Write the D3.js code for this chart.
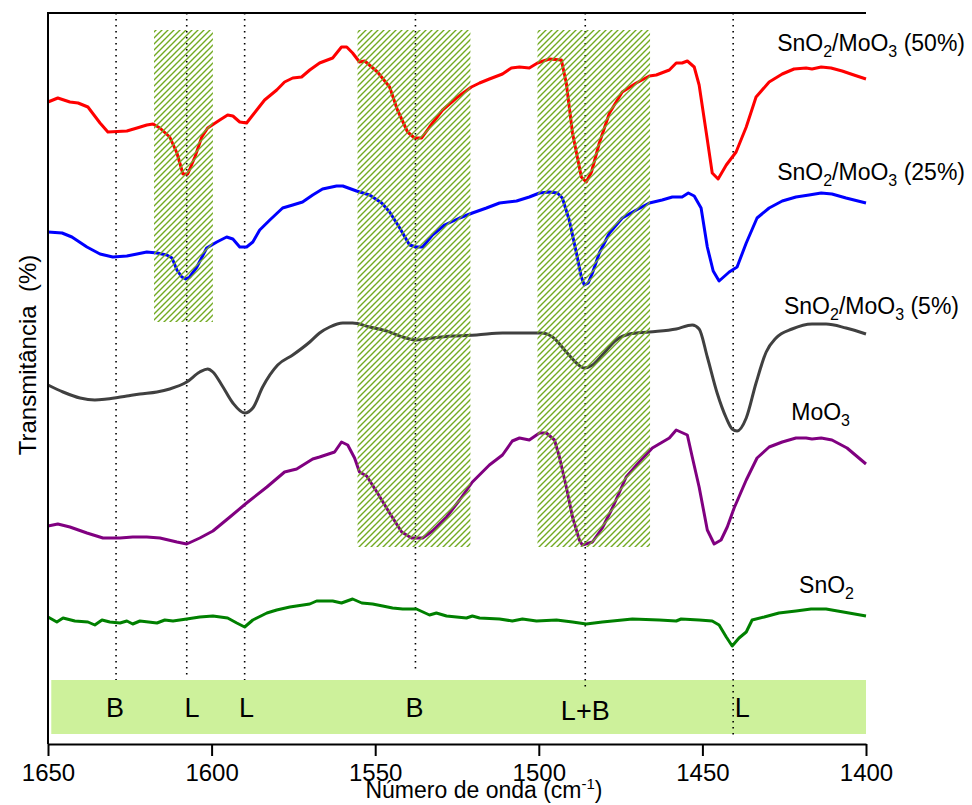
<!DOCTYPE html>
<html><head><meta charset="utf-8">
<script src="https://cdn.jsdelivr.net/npm/d3@7"></script>
<style>body{margin:0;background:#fff}svg{display:block;font-family:"Liberation Sans",Arial,Helvetica,sans-serif}</style>
</head><body><svg id="c" width="972" height="805"></svg>
<script>
// ---- data (wavenumber cm^-1, transmittance in arbitrary offset units) ----
const wavenumberTicks = [1650, 1600, 1550, 1500, 1450, 1400];

const sno2Moo3_50 = [[1650,642],[1647.0,646],[1643.3,642],[1640.8,641],[1637.8,637],[1634.1,621],[1631.7,612],[1625.9,613],[1622.8,616],[1619.8,619],[1617.9,620],[1615.8,616],[1612.8,607],[1610.6,591],[1609.1,574],[1608.8,570],[1607.3,570],[1605.1,587],[1603.0,607],[1601.2,616],[1597.5,624],[1595.1,629],[1593.5,628],[1591.4,622],[1589.3,621],[1587.4,629],[1583.8,644],[1580.1,654],[1577.7,662],[1575.2,666],[1572.5,667],[1570.0,674],[1567.0,681],[1563.0,686],[1560.3,697],[1558.7,697],[1556.9,691],[1554.8,682],[1553.2,683],[1549.3,672],[1545.6,657],[1543.2,634],[1540.1,612],[1538.0,606],[1535.8,606],[1533.4,617],[1529.4,634],[1525.2,646],[1520.6,657],[1518.1,661],[1515.1,665],[1511.1,670],[1508.4,676],[1505.9,677],[1502.9,676],[1500.4,681],[1496.8,685],[1493.1,684],[1491.6,661],[1489.7,611],[1487.0,567],[1485.5,562],[1483.9,572],[1481.5,601],[1478.4,631],[1474.5,652],[1470.2,661],[1466.2,668],[1464.1,669],[1460.1,674],[1458.0,681],[1456.2,681],[1454.6,683],[1452.5,677],[1451.0,659],[1448.8,611],[1447.0,571],[1445.2,565],[1442.7,579],[1439.7,592],[1436.6,617],[1433.6,647],[1429.6,662],[1425.6,670],[1422.0,675],[1418.3,676],[1416.5,675],[1413.7,677],[1410.7,676],[1407.3,673],[1403.7,669],[1400,665]];

const sno2Moo3_25 = [[1650,512],[1645.7,511],[1642.7,507],[1638.1,497],[1634.1,490],[1630.2,487],[1625.9,488],[1622.8,490],[1619.8,492],[1616.7,491],[1613.7,489],[1612.1,486],[1610.6,474],[1609.1,467],[1607.9,465],[1606.7,467],[1604.5,477],[1601.5,496],[1598.4,502],[1595.4,507],[1593.5,505],[1591.4,497],[1589.3,497],[1587.4,502],[1585.3,514],[1582.2,524],[1578.3,536],[1575.2,539],[1572.2,542],[1569.1,549],[1566.1,555],[1561.8,558],[1559.9,558],[1555.7,553],[1551.7,549],[1548.0,541],[1545.6,532],[1542.5,516],[1539.5,499],[1537.4,497],[1535.5,497],[1532.5,509],[1528.8,519],[1524.2,526],[1520.3,531],[1516.0,536],[1512.0,541],[1506.8,543],[1502.9,547],[1499.8,551],[1496.8,552],[1494.3,551],[1492.8,546],[1490.7,524],[1488.5,491],[1487.0,467],[1486.1,459],[1484.9,461],[1483.6,471],[1481.5,491],[1478.4,511],[1474.5,526],[1470.2,534],[1466.2,541],[1462.3,544],[1459.2,547],[1456.2,547],[1454.3,551],[1452.5,548],[1450.4,536],[1448.5,497],[1446.7,473],[1444.9,463],[1441.8,472],[1439.4,477],[1436.6,501],[1433.3,526],[1429.6,536],[1425.6,543],[1421.4,547],[1417.4,549],[1413.7,551],[1410.4,550],[1406.1,546],[1400,541]];

const sno2Moo3_5 = [[1650,359],[1645.4,352],[1640.2,346],[1635.7,344],[1632.0,345],[1625.9,348],[1621.9,350],[1616.7,352],[1612.8,355],[1607.6,362],[1603.6,372],[1601.2,375],[1599.6,372],[1596.9,359],[1593.5,341],[1589.9,331],[1587.4,336],[1584.4,357],[1579.8,379],[1575.2,389],[1570.0,402],[1567.0,411],[1563.9,417],[1559.9,421],[1556.9,421],[1551.7,417],[1546.5,413],[1541.6,407],[1537.4,404],[1532.5,406],[1526.4,408],[1519.0,409],[1511.1,411],[1503.8,411],[1499.2,411],[1495.8,407],[1491.6,392],[1488.5,381],[1486.1,376],[1483.6,379],[1480.6,389],[1476.3,404],[1472.3,410],[1466.2,412],[1458.0,415],[1453.1,419],[1451.0,415],[1448.5,387],[1445.5,351],[1442.7,326],[1440.9,315],[1439.4,313],[1436.6,326],[1433.6,361],[1430.5,392],[1427.5,406],[1422.6,415],[1416.5,420],[1412.2,420],[1406.1,416],[1400,410]];

const moo3 = [[1650,218],[1647.0,220],[1643.3,217],[1638.1,211],[1633.2,206],[1628.0,206],[1624.1,207],[1619.8,207],[1615.8,206],[1610.6,202],[1607.6,200],[1603.6,206],[1599.6,213],[1594.4,227],[1589.3,241],[1583.1,257],[1577.7,272],[1574.0,275],[1569.1,285],[1567.0,287],[1562.4,292],[1560.3,302],[1558.4,299],[1556.3,286],[1554.8,272],[1552.6,268],[1549.3,251],[1545.6,231],[1541.9,212],[1538.9,206],[1535.5,206],[1532.5,213],[1528.2,227],[1524.2,244],[1520.3,262],[1515.1,279],[1511.1,289],[1508.1,303],[1505.9,306],[1502.9,304],[1499.8,311],[1497.7,311],[1495.2,304],[1493.7,287],[1491.6,257],[1489.7,227],[1487.6,204],[1486.7,199],[1483.6,202],[1480.6,216],[1477.5,236],[1473.3,267],[1469.3,282],[1465.3,296],[1460.1,306],[1458.0,314],[1454.6,309],[1453.1,287],[1451.0,257],[1448.5,214],[1446.4,200],[1444.3,204],[1442.4,217],[1440.3,236],[1436.6,264],[1433.3,286],[1429.6,297],[1425.6,302],[1421.4,306],[1418.3,306],[1416.5,305],[1413.7,306],[1410.4,304],[1405.8,296],[1400,280]];

const sno2 = [[1650,127],[1647.3,122],[1645.4,126],[1641.8,123],[1637.8,122],[1635.7,119],[1633.5,124],[1631.1,122],[1628.0,121],[1625.9,123],[1624.1,120],[1621.9,123],[1616.7,121],[1614.3,124],[1611.8,123],[1607.6,125],[1603.6,127],[1599.6,128],[1595.1,126],[1592.3,121],[1589.9,117],[1587.4,124],[1583.1,131],[1580.1,134],[1576.1,137],[1570.0,140],[1567.9,143],[1563.0,143],[1560.3,141],[1556.9,145],[1554.1,141],[1550.8,140],[1547.7,138],[1544.7,136],[1541.6,135],[1537.4,135],[1533.4,129],[1531.3,131],[1528.2,128],[1522.1,126],[1520.3,128],[1518.1,126],[1512.0,125],[1508.1,123],[1505.0,125],[1500.7,123],[1494.6,124],[1489.7,122],[1485.5,120],[1480.6,122],[1477.5,123],[1471.4,125],[1463.2,124],[1458.0,123],[1456.5,125],[1451.0,124],[1447.0,123],[1444.9,119],[1442.7,107],[1440.9,98],[1438.8,106],[1436.6,112],[1434.8,124],[1431.1,127],[1426.6,131],[1421.4,133],[1416.8,135],[1412.2,135],[1405.2,131],[1400,128]];

const seriesLabels = ["SnO2/MoO3 (50%)", "SnO2/MoO3 (25%)", "SnO2/MoO3 (5%)", "MoO3", "SnO2"];
const seriesColors = ["#ff0000", "#0000ff", "#404040", "#800080", "#008000"];

// band assignments (Lewis / Brønsted)
const assignmentLabels = ["B", "L", "L", "B", "L+B", "L"];
const assignmentWavenumbers = [1629.2, 1607.6, 1589.9, 1537.7, 1485.8, 1440.6];
const assignmentLabelWavenumbers = [1629.5, 1606.0, 1589.3, 1538.0, 1485.8, 1437.8];
const assignmentLineEnds = [64, 69, 64, 71, 56, 7];
// hatched regions: [from, to] wavenumber and [top, bottom] transmittance
const hatchFrom = [1617.6, 1555.4, 1500.4];
const hatchTo = [1599.6, 1520.9, 1466.0];
const hatchTop = [714, 714, 714];
const hatchBottom = [422, 197, 197];

// ---- chart ----
const svg = d3.select("#c");
const L = 48, R = 866, T = 13, B = 744;
const x = d3.scaleLinear().domain([1650, 1400]).range([L, R]);
const y = d3.scaleLinear().domain([0, 731]).range([B, T]);

const defs = svg.append("defs");
const pat = defs.append("pattern").attr("id", "hatch").attr("patternUnits", "userSpaceOnUse")
  .attr("width", 6).attr("height", 6);
pat.append("path").attr("d", "M0,6 L6,0 M-1.5,1.5 L1.5,-1.5 M4.5,7.5 L7.5,4.5")
  .attr("stroke", "#72aa22").attr("stroke-width", 1.4);

// light green assignment band
svg.append("rect").attr("x", x(1649)).attr("y", y(64)).attr("width", x(1400) - x(1649))
  .attr("height", y(10) - y(64)).attr("fill", "#cdf19b");

// dotted assignment lines
svg.append("g").selectAll("line").data(assignmentWavenumbers).join("line")
  .attr("x1", d => x(d)).attr("x2", d => x(d))
  .attr("y1", T).attr("y2", (d, i) => y(assignmentLineEnds[i]))
  .attr("stroke", "#000").attr("stroke-width", 1.6).attr("stroke-dasharray", "1.6,4.4");

// series
const series = [sno2Moo3_50, sno2Moo3_25, sno2Moo3_5, moo3, sno2];
const line = d3.line().x(d => x(d[0])).y(d => y(d[1]));
const smooth = d3.line().x(d => x(d[0])).y(d => y(d[1])).curve(d3.curveMonotoneX);
svg.append("g").selectAll("path").data(series).join("path")
  .attr("d", (d, i) => i === 2 ? smooth(d) : line(d))
  .attr("fill", "none").attr("stroke", (d, i) => seriesColors[i])
  .attr("stroke-width", 3).attr("stroke-linejoin", "round");

// hatched regions on top
svg.append("g").selectAll("rect").data(hatchFrom).join("rect")
  .attr("x", (d) => x(d)).attr("width", (d, i) => x(hatchTo[i]) - x(d))
  .attr("y", (d, i) => y(hatchTop[i])).attr("height", (d, i) => y(hatchBottom[i]) - y(hatchTop[i]))
  .attr("fill", "url(#hatch)");

// band letters
svg.append("g").selectAll("text").data(assignmentLabels).join("text")
  .attr("x", (d, i) => x(assignmentLabelWavenumbers[i])).attr("y", (d, i) => d === "L+B" ? 720 : 717)
  .attr("text-anchor", "middle").attr("font-size", 27).attr("fill", "#000").text(d => d);

// axes
const xAxis = d3.axisBottom(x).tickValues(wavenumberTicks).tickSize(12).tickSizeOuter(0).tickPadding(8).tickFormat(d3.format("d"));
const gx = svg.append("g").attr("transform", `translate(0,${B})`).call(xAxis);
gx.attr("font-family", null).attr("font-size", 24);
gx.selectAll("path,line").attr("stroke", "#000").attr("stroke-width", 2);
gx.selectAll("text").attr("fill", "#000");
svg.append("line").attr("x1", L).attr("x2", L).attr("y1", T - 1).attr("y2", B).attr("stroke", "#000").attr("stroke-width", 2);
svg.append("line").attr("x1", L - 1).attr("x2", R).attr("y1", T).attr("y2", T).attr("stroke", "#000").attr("stroke-width", 2);

// axis titles
const xt = svg.append("text").attr("x", 484).attr("y", 798).attr("text-anchor", "middle").attr("font-size", 23);
xt.append("tspan").text("Número de onda (cm");
xt.append("tspan").attr("font-size", 15).attr("dy", -9).text("-1");
xt.append("tspan").attr("dy", 9).text(")");

svg.append("text").attr("transform", "translate(36,355) rotate(-90)").attr("text-anchor", "middle")
  .attr("font-size", 24).style("white-space", "pre").text("Transmitância  (%)");

// series labels with subscripts
function chem(str, xp, yp) {
  const t = svg.append("text").attr("x", xp).attr("y", yp).attr("text-anchor", "end").attr("font-size", 23);
  const parts = str.split(/(\d)(?=[\/\s]|$)/).filter(p => p !== "");
  let shift = 0;
  parts.forEach(p => {
    const sub = /^[23]$/.test(p);
    const ts = t.append("tspan").text(p);
    if (sub) { ts.attr("font-size", 16).attr("dy", 6); shift = 6; }
    else if (shift) { ts.attr("dy", -shift); shift = 0; }
  });
}
const labelPos = [[965, 51], [965, 180], [959, 314], [850, 420], [854, 593]];
seriesLabels.forEach((s, i) => chem(s, labelPos[i][0], labelPos[i][1]));
</script></body></html>
